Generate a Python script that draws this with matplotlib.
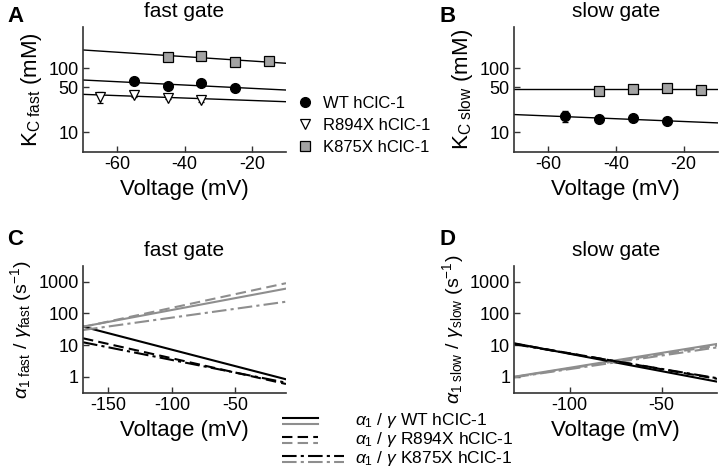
"""Chloride dependence and rate constants of fast/slow gates (4 panels)."""

import matplotlib
matplotlib.use('Agg')
import matplotlib.pyplot as plt
from matplotlib.ticker import FixedLocator, NullLocator, FixedFormatter

plt.rcParams['font.family'] = ['Liberation Sans', 'DejaVu Sans']
plt.rcParams['axes.unicode_minus'] = False
plt.rcParams['mathtext.fontset'] = 'custom'
plt.rcParams['mathtext.rm'] = 'Liberation Sans'
plt.rcParams['mathtext.it'] = 'Liberation Sans:italic'
plt.rcParams['mathtext.bf'] = 'Liberation Sans:bold'

# --- panel A: K_C fast ---
VOLT_A_WT = [-55, -45, -35, -25]
KC_FAST_WT = [63, 53, 58, 48.5]
KC_FAST_WT_ERR = [4, 4, 4, 3]
VOLT_A_R894 = [-65, -55, -45, -35]
KC_FAST_R894 = [36, 38, 34.5, 32]
KC_FAST_R894_ERR = [7, 2, 2, 2]
VOLT_A_K875 = [-45, -35, -25, -15]
KC_FAST_K875 = [152, 155, 127, 128]
KC_FAST_K875_ERR = [14, 8, 8, 8]
FIT_V_A = [-70, -10]
FIT_FAST_WT = [65.5, 45.6]
FIT_FAST_R894 = [39, 29.9]
FIT_FAST_K875 = [194, 120]

# --- panel B: K_C slow ---
VOLT_B_WT = [-55, -45, -35, -25]
KC_SLOW_WT = [17.9, 15.8, 16.8, 14.7]
KC_SLOW_WT_ERR = [3.5, 1, 1, 1]
VOLT_B_K875 = [-45, -35, -25, -15]
KC_SLOW_K875 = [44.5, 46.6, 48.3, 46]
KC_SLOW_K875_ERR = [5, 2, 2, 2]
FIT_V_B = [-70, -10]
FIT_SLOW_WT = [18.8, 13.9]
FIT_SLOW_K875 = [47, 47]

# --- panel C: fast gate rates (alpha1 black, gamma gray) ---
V_C = [-170, -10]
ALPHA_FAST = {'WT': [38, 0.83], 'R894X': [16.3, 0.59], 'K875X': [12.2, 0.65]}
GAMMA_FAST = {'WT': [38, 600], 'R894X': [37, 890], 'K875X': [29.7, 232]}

# --- panel D: slow gate rates ---
V_D = [-130, -20]
ALPHA_SLOW = {'WT': [11.3, 0.7], 'R894X': [11.0, 0.86], 'K875X': [10.6, 0.9]}
GAMMA_SLOW = {'WT': [1.0, 10.8], 'R894X': [0.98, 9.6], 'K875X': [0.96, 8.4]}

CONSTRUCTS = ['WT', 'R894X', 'K875X']
LEGEND_NAMES = ['WT hClC-1', 'R894X hClC-1', 'K875X hClC-1']

GRAY = '#8e8e8e'
SQ_FILL = '#a3a3a3'
SPINE = '#333333'
LINESTYLES = {'WT': '-', 'R894X': (0, (5, 2.5)), 'K875X': (0, (7, 2, 1.5, 2))}

TICK_FS = 13
LABEL_FS = 16
TITLE_FS = 15


def _style_ax(ax):
    for side in ('top', 'right'):
        ax.spines[side].set_visible(False)
    for side in ('left', 'bottom'):
        ax.spines[side].set_color(SPINE)
        ax.spines[side].set_linewidth(1.2)
    ax.tick_params(direction='in', length=4, width=1.0, color=SPINE,
                   labelsize=TICK_FS, pad=3)
    ax.set_yscale('log')
    ax.yaxis.set_minor_locator(NullLocator())


def _kc_axes(ax, xticks):
    _style_ax(ax)
    ax.set_xlim(-70, -10)
    ax.set_ylim(4.85, 445)
    ax.yaxis.set_major_locator(FixedLocator([10, 50, 100]))
    ax.yaxis.set_major_formatter(FixedFormatter(['10', '50', '100']))
    ax.set_xticks(xticks)
    ax.set_xlabel('Voltage (mV)', fontsize=LABEL_FS, labelpad=4)


def _rate_axes(ax, xlim, xticks):
    _style_ax(ax)
    ax.set_xlim(*xlim)
    ax.set_ylim(0.3, 3100)
    ax.yaxis.set_major_locator(FixedLocator([1, 10, 100, 1000]))
    ax.yaxis.set_major_formatter(FixedFormatter(['1', '10', '100', '1000']))
    ax.set_xticks(xticks)
    ax.set_xlabel('Voltage (mV)', fontsize=LABEL_FS, labelpad=4)


fig = plt.figure(figsize=(7.2, 4.73), dpi=100)
ax_a = fig.add_axes([0.1153, 0.6786, 0.2819, 0.2643])
ax_b = fig.add_axes([0.7139, 0.6786, 0.2829, 0.2643])
ax_c = fig.add_axes([0.1153, 0.1685, 0.2819, 0.2691])
ax_d = fig.add_axes([0.7143, 0.1685, 0.2815, 0.2691])

# panel A
_kc_axes(ax_a, [-60, -40, -20])
for fit in (FIT_FAST_WT, FIT_FAST_R894, FIT_FAST_K875):
    ax_a.plot(FIT_V_A, fit, color='black', lw=1.0, zorder=2)
mk = dict(ms=7, capsize=2, elinewidth=1.0, ecolor='black', ls='none', zorder=3)
ax_a.errorbar(VOLT_A_WT, KC_FAST_WT, yerr=KC_FAST_WT_ERR, marker='o',
              mfc='black', mec='black', **mk)
ax_a.errorbar(VOLT_A_R894, KC_FAST_R894, yerr=KC_FAST_R894_ERR, marker='v',
              mfc='white', mec='black', mew=0.9, **mk)
ax_a.errorbar(VOLT_A_K875, KC_FAST_K875, yerr=KC_FAST_K875_ERR, marker='s',
              mfc=SQ_FILL, mec='black', mew=0.9, **mk)
ax_a.set_ylabel(r'K$_{\mathrm{C\ fast}}$ (mM)', fontsize=LABEL_FS, labelpad=3)
ax_a.set_title('fast gate', fontsize=TITLE_FS, pad=7)

# panel B
_kc_axes(ax_b, [-60, -40, -20])
for fit in (FIT_SLOW_WT, FIT_SLOW_K875):
    ax_b.plot(FIT_V_B, fit, color='black', lw=1.0, zorder=2)
ax_b.errorbar(VOLT_B_WT, KC_SLOW_WT, yerr=KC_SLOW_WT_ERR, marker='o',
              mfc='black', mec='black', **mk)
ax_b.errorbar(VOLT_B_K875, KC_SLOW_K875, yerr=KC_SLOW_K875_ERR, marker='s',
              mfc=SQ_FILL, mec='black', mew=0.9, **mk)
ax_b.set_ylabel(r'K$_{\mathrm{C\ slow}}$ (mM)', fontsize=LABEL_FS, labelpad=3)
ax_b.set_title('slow gate', fontsize=TITLE_FS, pad=7)

# marker legend between A and B
mk_handles = [
    plt.Line2D([], [], marker='o', ls='none', ms=7, mfc='black', mec='black'),
    plt.Line2D([], [], marker='v', ls='none', ms=7, mfc='white', mec='black', mew=0.9),
    plt.Line2D([], [], marker='s', ls='none', ms=7, mfc=SQ_FILL, mec='black', mew=0.9),
]
fig.legend(mk_handles, LEGEND_NAMES, loc='upper left',
           bbox_to_anchor=(0.412, 0.797), frameon=False, fontsize=12,
           handlelength=1.0, handletextpad=0.6, labelspacing=0.42,
           borderpad=0, borderaxespad=0)

# panel C
_rate_axes(ax_c, (-170, -10), [-150, -100, -50])
for name in CONSTRUCTS:
    ax_c.plot(V_C, GAMMA_FAST[name], color=GRAY, lw=1.5, ls=LINESTYLES[name])
    ax_c.plot(V_C, ALPHA_FAST[name], color='black', lw=1.5, ls=LINESTYLES[name])
ax_c.set_ylabel(r'$\alpha_{\mathrm{1\ fast}}\ /\ \gamma_{\mathrm{fast}}\ (\mathrm{s}^{-1})$',
                fontsize=14, labelpad=3)
ax_c.set_title('fast gate', fontsize=TITLE_FS, pad=7)

# panel D
_rate_axes(ax_d, (-130, -20), [-100, -50])
for name in CONSTRUCTS:
    ax_d.plot(V_D, GAMMA_SLOW[name], color=GRAY, lw=1.5, ls=LINESTYLES[name])
    ax_d.plot(V_D, ALPHA_SLOW[name], color='black', lw=1.5, ls=LINESTYLES[name])
ax_d.set_ylabel(r'$\alpha_{\mathrm{1\ slow}}\ /\ \gamma_{\mathrm{slow}}\ (\mathrm{s}^{-1})$',
                fontsize=14, labelpad=3)
ax_d.set_title('slow gate', fontsize=TITLE_FS, pad=7)

# line-style legend at the bottom (black = alpha1, gray = gamma)
ax_leg = fig.add_axes([0.392, 0.0, 0.33, 0.135])
ax_leg.set_xlim(0, 1)
ax_leg.set_ylim(0, 1)
ax_leg.axis('off')
sample_end = {'WT': 0.152, 'R894X': 0.152, 'K875X': 0.26}
for i, (name, label) in enumerate(zip(CONSTRUCTS, LEGEND_NAMES)):
    y = 0.82 - i * 0.30
    xs = [0.0, sample_end[name]]
    ax_leg.plot(xs, [y + 0.045, y + 0.045], color='black', lw=1.5, ls=LINESTYLES[name])
    ax_leg.plot(xs, [y - 0.045, y - 0.045], color=GRAY, lw=1.5, ls=LINESTYLES[name])
    ax_leg.text(0.305, y, r'$\alpha_1$ / $\gamma$ ' + label, fontsize=12.5,
                va='center', ha='left')

# panel letters
for x, y, letter in [(0.010, 0.988, 'A'), (0.611, 0.988, 'B'),
                     (0.010, 0.516, 'C'), (0.611, 0.516, 'D')]:
    fig.text(x, y, letter, fontsize=16, fontweight='bold', va='top', ha='left')

fig.savefig('out.png', dpi=100)
